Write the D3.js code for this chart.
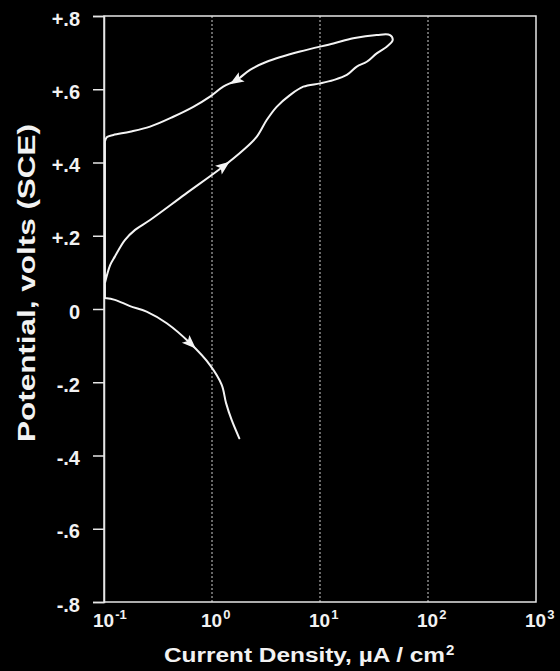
<!DOCTYPE html>
<html>
<head>
<meta charset="utf-8">
<script src="https://d3js.org/d3.v7.min.js"></script>
<style>
  html, body { margin: 0; padding: 0; background: #000; }
  svg { display: block; }
  text { font-family: "Liberation Sans", Arial, sans-serif; font-weight: bold; fill: #f2f2f2; }
</style>
</head>
<body>
<div id="chart"></div>
<script>
// polarization scan (µA/cm², volts SCE)
// forward (anodic) -> vertex -> reverse -> down the left edge -> cathodic
const current = [
  0.102, 0.114, 0.126, 0.156, 0.194, 0.267, 0.562, 1.27, 1.95, 2.59,
  3.21, 3.97, 5.27, 7.00, 10.0, 13.3, 17.7, 21.9, 27.1, 33.5,
  41.5, 47.1, 44.5, 33.5, 20.3, 13.3, 6.53, 3.21, 2.25, 1.69,
  1.27, 0.958, 0.671, 0.438, 0.267, 0.174, 0.122, 0.106, 0.102, 0.102,
  0.126, 0.174, 0.248, 0.381, 0.625, 0.958, 1.23, 1.35, 1.52, 1.79
];
const potential = [
  0.071, 0.120, 0.143, 0.188, 0.216, 0.243, 0.313, 0.389, 0.434, 0.470,
  0.516, 0.552, 0.584, 0.607, 0.616, 0.625, 0.639, 0.662, 0.675, 0.698,
  0.716, 0.734, 0.748, 0.748, 0.739, 0.725, 0.703, 0.675, 0.653, 0.625,
  0.607, 0.580, 0.552, 0.525, 0.498, 0.484, 0.475, 0.469, 0.457, 0.030,
  0.025, 0.008, -0.007, -0.039, -0.093, -0.153, -0.207, -0.257, -0.303, -0.353
];
// points of the scan that carry a direction arrow
const arrowIdx = [7, 29, 44];
// sharp corners where the scan runs along the left edge
const cornerIdx = [38, 39];

const xTicks = [0.1, 1, 10, 100, 1000];
const xTickExp = ["-1", "0", "1", "2", "3"];
const gridTicks = [1, 10, 100];
const yTicks = [0.8, 0.6, 0.4, 0.2, 0, -0.2, -0.4, -0.6, -0.8];
const yTickLabels = ["+.8", "+.6", "+.4", "+.2", "0", "-.2", "-.4", "-.6", "-.8"];

const W = 560, H = 671;
const m = { left: 104, right: 536, top: 16, bottom: 602 };

const svg = d3.select("#chart").append("svg")
  .attr("width", W)
  .attr("height", H);

const x = d3.scaleLog().domain([0.1, 1000]).range([m.left, m.right]);
const y = d3.scaleLinear().domain([-0.8, 0.8]).range([m.bottom, m.top]);

// dotted decade lines
svg.append("g")
  .selectAll("line")
  .data(gridTicks)
  .join("line")
  .attr("x1", d => x(d)).attr("x2", d => x(d))
  .attr("y1", m.top).attr("y2", m.bottom)
  .attr("stroke", "#cfcfcf")
  .attr("stroke-width", 1)
  .attr("stroke-dasharray", "2,2");

// frame
svg.append("rect")
  .attr("x", m.left).attr("y", m.top)
  .attr("width", m.right - m.left).attr("height", m.bottom - m.top)
  .attr("fill", "none")
  .attr("stroke", "#e6e6e6")
  .attr("stroke-width", 1.5);

// y axis
const yAxis = svg.append("g")
  .attr("transform", `translate(${m.left},0)`)
  .call(d3.axisLeft(y).tickValues(yTicks).tickSize(11).tickPadding(13)
    .tickFormat((d, i) => yTickLabels[i]));
yAxis.select(".domain").attr("stroke", "#e6e6e6").attr("stroke-width", 1.5);
yAxis.selectAll(".tick line").attr("stroke", "#e6e6e6").attr("stroke-width", 1.5);
yAxis.selectAll(".tick text")
  .attr("fill", "#f2f2f2")
  .attr("dy", "0.45em")
  .style("font-size", "20px");

// x tick labels: 10 with superscript exponent
const xl = svg.append("g")
  .selectAll("text")
  .data(xTicks)
  .join("text")
  .attr("x", d => x(d) - 11)
  .attr("y", 627)
  .style("font-size", "19px");
xl.append("tspan").text("10");
xl.append("tspan")
  .attr("dx", 1)
  .attr("dy", -8)
  .style("font-size", "13px")
  .text((d, i) => xTickExp[i]);

// axis titles
svg.append("text")
  .attr("x", 164).attr("y", 662)
  .attr("textLength", 281)
  .attr("lengthAdjust", "spacingAndGlyphs")
  .style("font-size", "20px")
  .text("Current Density, µA / cm");
svg.append("text")
  .attr("x", 446).attr("y", 655)
  .style("font-size", "15px")
  .text("2");

svg.append("text")
  .attr("transform", "translate(35,283) rotate(-90)")
  .attr("text-anchor", "middle")
  .attr("textLength", 318)
  .attr("lengthAdjust", "spacingAndGlyphs")
  .style("font-size", "23px")
  .text("Potential, volts (SCE)");

// the scan, smooth between the corners
const pts = current.map((c, i) => [x(c), y(potential[i])]);
const cuts = [0, ...cornerIdx, pts.length - 1];
const smooth = d3.line().curve(d3.curveCatmullRom.alpha(0.5));
const scanD = d3.pairs(cuts).map(([a, b]) => smooth(pts.slice(a, b + 1))).join("");
svg.append("path")
  .attr("d", scanD)
  .attr("fill", "none")
  .attr("stroke", "#f4f4f4")
  .attr("stroke-width", 2)
  .attr("stroke-linejoin", "round")
  .attr("stroke-linecap", "round");

// direction arrows
svg.append("g")
  .selectAll("path")
  .data(arrowIdx)
  .join("path")
  .attr("d", "M8,0 L-6,-5.5 L-3,0 L-6,5.5 Z")
  .attr("fill", "#f4f4f4")
  .attr("transform", i => {
    const a = pts[i - 1], b = pts[i + 1];
    const ang = Math.atan2(b[1] - a[1], b[0] - a[0]) * 180 / Math.PI;
    return `translate(${pts[i][0]},${pts[i][1]}) rotate(${ang})`;
  });
</script>
</body>
</html>
